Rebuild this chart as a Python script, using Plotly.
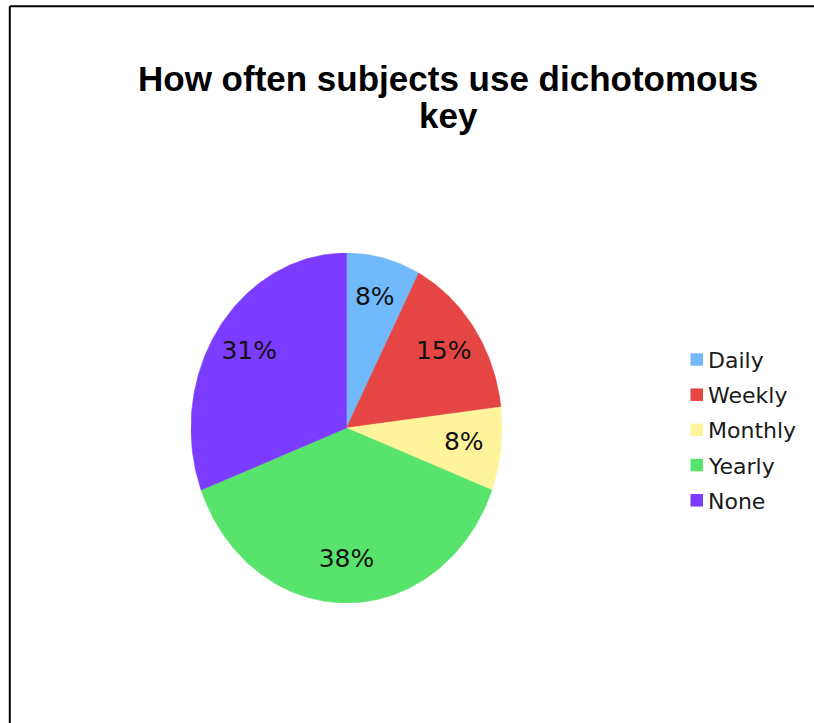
import numpy as np
import plotly.graph_objects as go

# Survey responses: how often subjects use a dichotomous key
categories = ["Daily", "Weekly", "Monthly", "Yearly", "None"]
counts = [1, 2, 1, 5, 4]
colors = ["#72b9fb", "#e54643", "#fff39c", "#58e36c", "#7b3cff"]

W, H = 814, 723

fig = go.Figure()

total = float(sum(counts))
fractions = [c / total for c in counts]

# Wedges drawn clockwise from 12 o'clock on a unit circle; the axis
# domains stretch it into the slightly taller ellipse.
start = 0.0
label_r = 0.76
for name, frac, col in zip(categories, fractions, colors):
    end = start + frac
    theta = np.linspace(start, end, max(int(frac * 400), 8)) * 2 * np.pi
    xs = np.concatenate([[0.0], np.sin(theta), [0.0]])
    ys = np.concatenate([[0.0], np.cos(theta), [0.0]])
    fig.add_trace(go.Scatter(
        x=xs, y=ys, mode="lines", fill="toself", fillcolor=col,
        line=dict(color=col, width=0.5), hoverinfo="skip", showlegend=False,
    ))
    mid = (start + end) / 2 * 2 * np.pi
    fig.add_trace(go.Scatter(
        x=[label_r * np.sin(mid)], y=[label_r * np.cos(mid)],
        mode="text", text=[f"{round(frac * 100)}%"],
        textposition="middle center",
        textfont=dict(family="DejaVu Sans", size=25, color="#111111"),
        hoverinfo="skip", showlegend=False,
    ))
    start = end

# Legend: square swatch plus label per category
leg_top, leg_step, sw = 359.5, 35.2, 12.5
for i, (name, col) in enumerate(zip(categories, colors)):
    cy = leg_top + i * leg_step
    fig.add_shape(type="rect", xref="paper", yref="paper",
                  x0=690.5 / W, x1=(690.5 + sw) / W,
                  y0=1 - (cy - sw / 2) / H, y1=1 - (cy + sw / 2) / H,
                  fillcolor=col, line=dict(width=0))
    fig.add_annotation(text=name, x=706.5 / W, y=1 - (cy + 1) / H,
                       xref="paper", yref="paper", xanchor="left", yanchor="middle",
                       showarrow=False, borderpad=0,
                       font=dict(family="DejaVu Sans", size=22, color="#1a1a1a"))

title_font = dict(family="Liberation Sans", size=35, color="#000000", weight="bold")
fig.add_annotation(text="How often subjects use dichotomous", x=448 / W, y=1 - 78 / H,
                   xref="paper", yref="paper", xanchor="center", yanchor="middle",
                   showarrow=False, font=title_font)
fig.add_annotation(text="key", x=448 / W, y=1 - 116 / H,
                   xref="paper", yref="paper", xanchor="center", yanchor="middle",
                   showarrow=False, font=title_font)

# Frame lines along the top and left edges
fig.add_shape(type="line", xref="paper", yref="paper",
              x0=9.8 / W, x1=1.0, y0=1 - 6.3 / H, y1=1 - 6.3 / H,
              line=dict(color="#000000", width=2))
fig.add_shape(type="line", xref="paper", yref="paper",
              x0=9.8 / W, x1=9.8 / W, y0=1 - 6.3 / H, y1=0.0,
              line=dict(color="#000000", width=2))

fig.update_layout(
    width=W, height=H,
    margin=dict(l=0, r=0, t=0, b=0),
    paper_bgcolor="white", plot_bgcolor="white",
    xaxis=dict(domain=[191 / W, 502 / W], range=[-1, 1], visible=False,
               showgrid=False, zeroline=False, fixedrange=True),
    yaxis=dict(domain=[1 - 603 / H, 1 - 253 / H], range=[-1, 1], visible=False,
               showgrid=False, zeroline=False, fixedrange=True),
    showlegend=False,
)

fig.write_html("out.html")
